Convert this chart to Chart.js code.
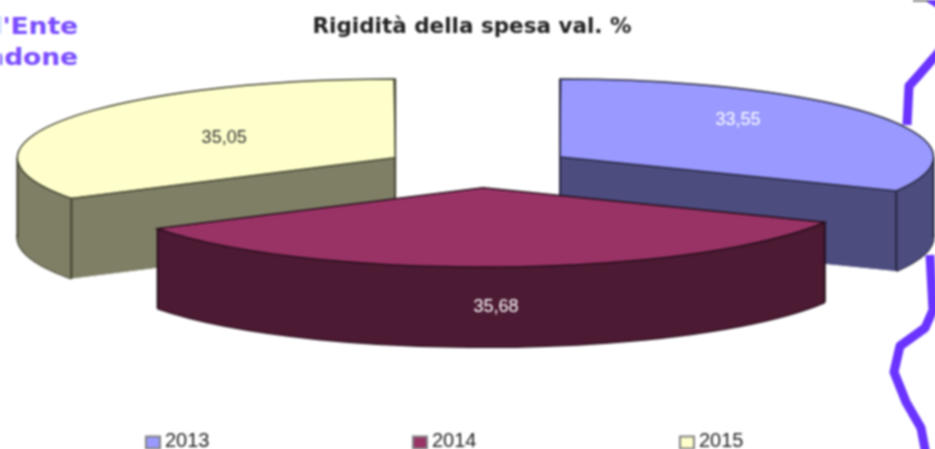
<!DOCTYPE html>
<html>
<head>
<meta charset="utf-8">
<style>
  html, body { margin: 0; padding: 0; background: #fff; overflow: hidden; width: 935px; height: 449px; }
  #wrap { position: relative; width: 960px; height: 475px; background: #fff; filter: blur(0.8px); }
  #back { position: absolute; left: 0; top: 0; }
  #pie { position: absolute; left: 0; top: 0; }
</style>
<script src="https://cdn.jsdelivr.net/npm/chart.js@4"></script>
</head>
<body>
<div id="wrap">
  <svg id="back" width="960" height="475">
    <g font-family="DejaVu Sans" font-weight="bold" font-size="23" fill="#7a4dff" text-anchor="end">
      <text transform="translate(78 34) scale(1.15 1)">l'Ente</text>
      <text transform="translate(78 65) scale(1.15 1)">ndone</text>
    </g>
    <g fill="none" stroke="#6a33ff" stroke-width="9" stroke-linejoin="round">
      <path d="M958 30 L918 76 L909 86 L907 125" />
      <path d="M930 255 L933 310 L925 328 L900 346 L894 372 L906 402 L921 428 L925 449 L927 472" />
      <path d="M929 -2 L945 8" />
    </g>
    <path d="M913 0 L929 0" stroke="#555" stroke-width="3" />
  </svg>
  <canvas id="pie" width="960" height="475"></canvas>
</div>
<script>
const categories = ["2013", "2014", "2015"];
const values = [33.55, 35.68, 35.05];
const chartTitle = "Rigidità della spesa val. %";

const topColors = ["#9999ff", "#993366", "#ffffcc"];
const sideColors = ["#4c4c7f", "#4c1a33", "#7f7f66"];
const edgeColors = ["#26263f", "#260d19", "#40402f"];
const labelColors = ["#ffffff", "#ffffff", "#333333"];

const sliceOffset = 384;
const labelShift = [[178, -37], [13, 119], [-171, -20]];
const legendX = [146, 413, 680];
const drawOrder = [0, 2, 1];

const pieX = 478.7;
const pieY = 167.7;
const squash = 0.209;
const depth = 80;

// same moves arc.draw makes: shift by offset/4, radius grows on narrow arcs
function arcShift(arc) {
  const o = arc.options.offset / 4;
  const fix = 1 - Math.sin(Math.min(Math.PI, arc.circumference));
  const mid = (arc.startAngle + arc.endAngle) / 2;
  return {
    x: pieX + Math.cos(mid) * o,
    y: pieY + Math.sin(mid) * o * squash,
    r: arc.outerRadius + o * fix,
  };
}

function drawTop(ctx, arc) {
  ctx.save();
  ctx.translate(pieX, pieY);
  ctx.scale(1, squash);
  ctx.translate(-arc.x, -arc.y);
  arc.draw(ctx);
  ctx.restore();
}

function drawSlice(ctx, arc, i) {
  const s = arcShift(arc);
  const ry = s.r * squash;
  const start = arc.startAngle;
  const end = arc.endAngle;
  const rim = (a) => ({ x: s.x + Math.cos(a) * s.r, y: s.y + Math.sin(a) * ry });

  // where the rim turns round, far left / right, if this slice has it
  const turns = [0, Math.PI, Math.PI * 2].filter((a) => a > start && a < end);

  ctx.fillStyle = sideColors[i];
  ctx.strokeStyle = edgeColors[i];
  ctx.lineWidth = 2;

  // bottom face
  ctx.beginPath();
  ctx.moveTo(s.x, s.y + depth);
  ctx.ellipse(s.x, s.y + depth, s.r, ry, 0, start, end);
  ctx.closePath();
  ctx.fill();
  ctx.beginPath();
  ctx.ellipse(s.x, s.y + depth, s.r, ry, 0, start, end);
  ctx.stroke();

  // curved wall, split at the turns so the band does not cross itself
  const stops = [start, ...turns, end];
  for (let k = 0; k < stops.length - 1; k++) {
    ctx.beginPath();
    ctx.ellipse(s.x, s.y, s.r, ry, 0, stops[k], stops[k + 1]);
    ctx.ellipse(s.x, s.y + depth, s.r, ry, 0, stops[k + 1], stops[k], true);
    ctx.closePath();
    ctx.fill();
  }

  // two cut faces
  [start, end].forEach((a) => {
    const p = rim(a);
    ctx.beginPath();
    ctx.moveTo(s.x, s.y);
    ctx.lineTo(p.x, p.y);
    ctx.lineTo(p.x, p.y + depth);
    ctx.lineTo(s.x, s.y + depth);
    ctx.closePath();
    ctx.fill();
  });

  // upright edges: apex, corners and turns
  const points = [{ x: s.x, y: s.y }, rim(start), rim(end), ...turns.map(rim)];
  points.forEach((p) => {
    ctx.beginPath();
    ctx.moveTo(p.x, p.y);
    ctx.lineTo(p.x, p.y + depth);
    ctx.stroke();
  });

  drawTop(ctx, arc);

  ctx.beginPath();
  ctx.moveTo(s.x, s.y);
  ctx.ellipse(s.x, s.y, s.r, ry, 0, start, end);
  ctx.closePath();
  ctx.lineWidth = 1.5;
  ctx.stroke();
}

const pie3d = {
  id: "pie3d",
  beforeDatasetDraw(chart) {
    const ctx = chart.ctx;
    const arcs = chart.getDatasetMeta(0).data;
    drawOrder.forEach((i) => drawSlice(ctx, arcs[i], i));

    ctx.font = "18px 'Liberation Sans'";
    ctx.textAlign = "center";
    ctx.textBaseline = "middle";
    arcs.forEach((arc, i) => {
      const apex = arcShift(arc);
      ctx.fillStyle = labelColors[i];
      ctx.fillText(values[i].toFixed(2).replace(".", ","), apex.x + labelShift[i][0], apex.y + labelShift[i][1]);
    });

    // legend sits wider apart than the built-in one can manage
    ctx.textAlign = "left";
    ctx.font = "20px 'Liberation Sans'";
    categories.forEach((c, i) => {
      ctx.fillStyle = topColors[i];
      ctx.strokeStyle = "#808080";
      ctx.lineWidth = 2;
      ctx.fillRect(legendX[i], 436.5, 14, 12);
      ctx.strokeRect(legendX[i], 436.5, 14, 12);
      ctx.fillStyle = "#222";
      ctx.fillText(c, legendX[i] + 19, 441);
    });
    return false;
  },
};

new Chart(document.getElementById("pie"), {
  type: "pie",
  data: {
    labels: categories,
    datasets: [
      {
        data: values,
        backgroundColor: topColors,
        borderWidth: 0,
        offset: sliceOffset,
        clip: false,
      },
    ],
  },
  options: {
    responsive: false,
    animation: false,
    radius: 364,
    layout: { padding: { right: 16 } },
    plugins: {
      legend: { display: false },
      tooltip: { enabled: false },
      title: {
        display: true,
        text: chartTitle,
        color: "#222",
        font: { family: "'DejaVu Sans'", size: 21.5, weight: "bold" },
        padding: { top: 15, bottom: 0 },
      },
    },
  },
  plugins: [pie3d],
});
</script>
</body>
</html>
